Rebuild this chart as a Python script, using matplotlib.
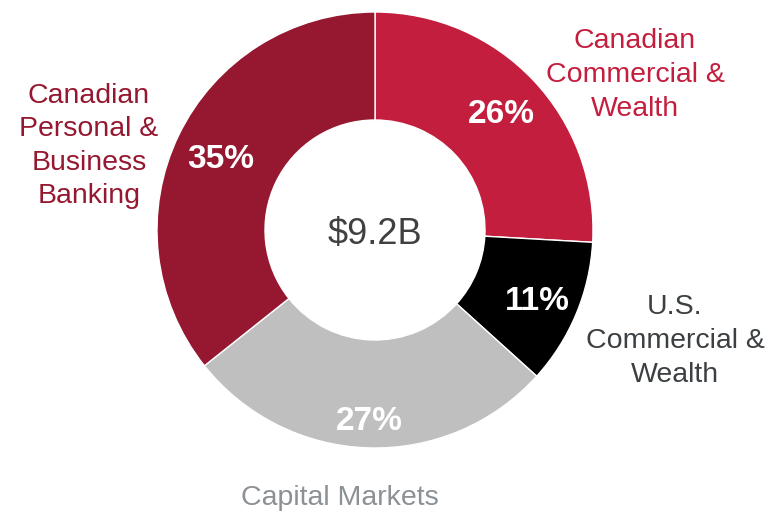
import numpy as np
import matplotlib.pyplot as plt

plt.rcParams['font.family'] = ['Liberation Sans', 'DejaVu Sans']

# segment shares and shown labels
segments = ['Canadian\nCommercial &\nWealth', 'U.S.\nCommercial &\nWealth',
            'Capital Markets', 'Canadian\nPersonal &\nBusiness\nBanking']
shares = [25.9, 10.8, 27.6, 35.7]
pct_text = ['26%', '11%', '27%', '35%']
total_text = '$9.2B'

colors = ['#C41E3E', '#000000', '#BFBFBF', '#951830']
label_colors = ['#C41E3E', '#3C4043', '#8C9196', '#951830']

W, H = 765, 512
fig = plt.figure(figsize=(W / 100, H / 100), dpi=100)
ax = fig.add_axes([0, 0, 1, 1])

cx, cy, R = 375, H - 230, 218
wedges, _ = ax.pie(shares, colors=colors, startangle=90, counterclock=False,
                   center=(cx, cy), radius=R, frame=True,
                   wedgeprops=dict(width=R - 110, edgecolor='white', linewidth=1))
ax.set_xlim(0, W)
ax.set_ylim(0, H)
ax.axis('off')

# percentage labels inside the ring
pct_r = [174, 176, 188, 171]
for w, t, r in zip(wedges, pct_text, pct_r):
    ang = np.deg2rad((w.theta1 + w.theta2) / 2)
    ax.text(cx + r * np.cos(ang), cy + r * np.sin(ang) - 4, t, color='white',
            fontsize=24, fontweight='bold', ha='center', va='center')

ax.text(cx, cy - 4, total_text, color='#404040', fontsize=26,
        ha='center', va='center')

# segment names outside
name_pos = [(635, H - 75), (675, H - 341), (340, H - 498), (89, H - 146)]
for name, (x, y), c in zip(segments, name_pos, label_colors):
    ax.text(x, y, name, color=c, fontsize=20.5, ha='center', va='center',
            linespacing=1.38)

fig.savefig('out.png', dpi=100)
